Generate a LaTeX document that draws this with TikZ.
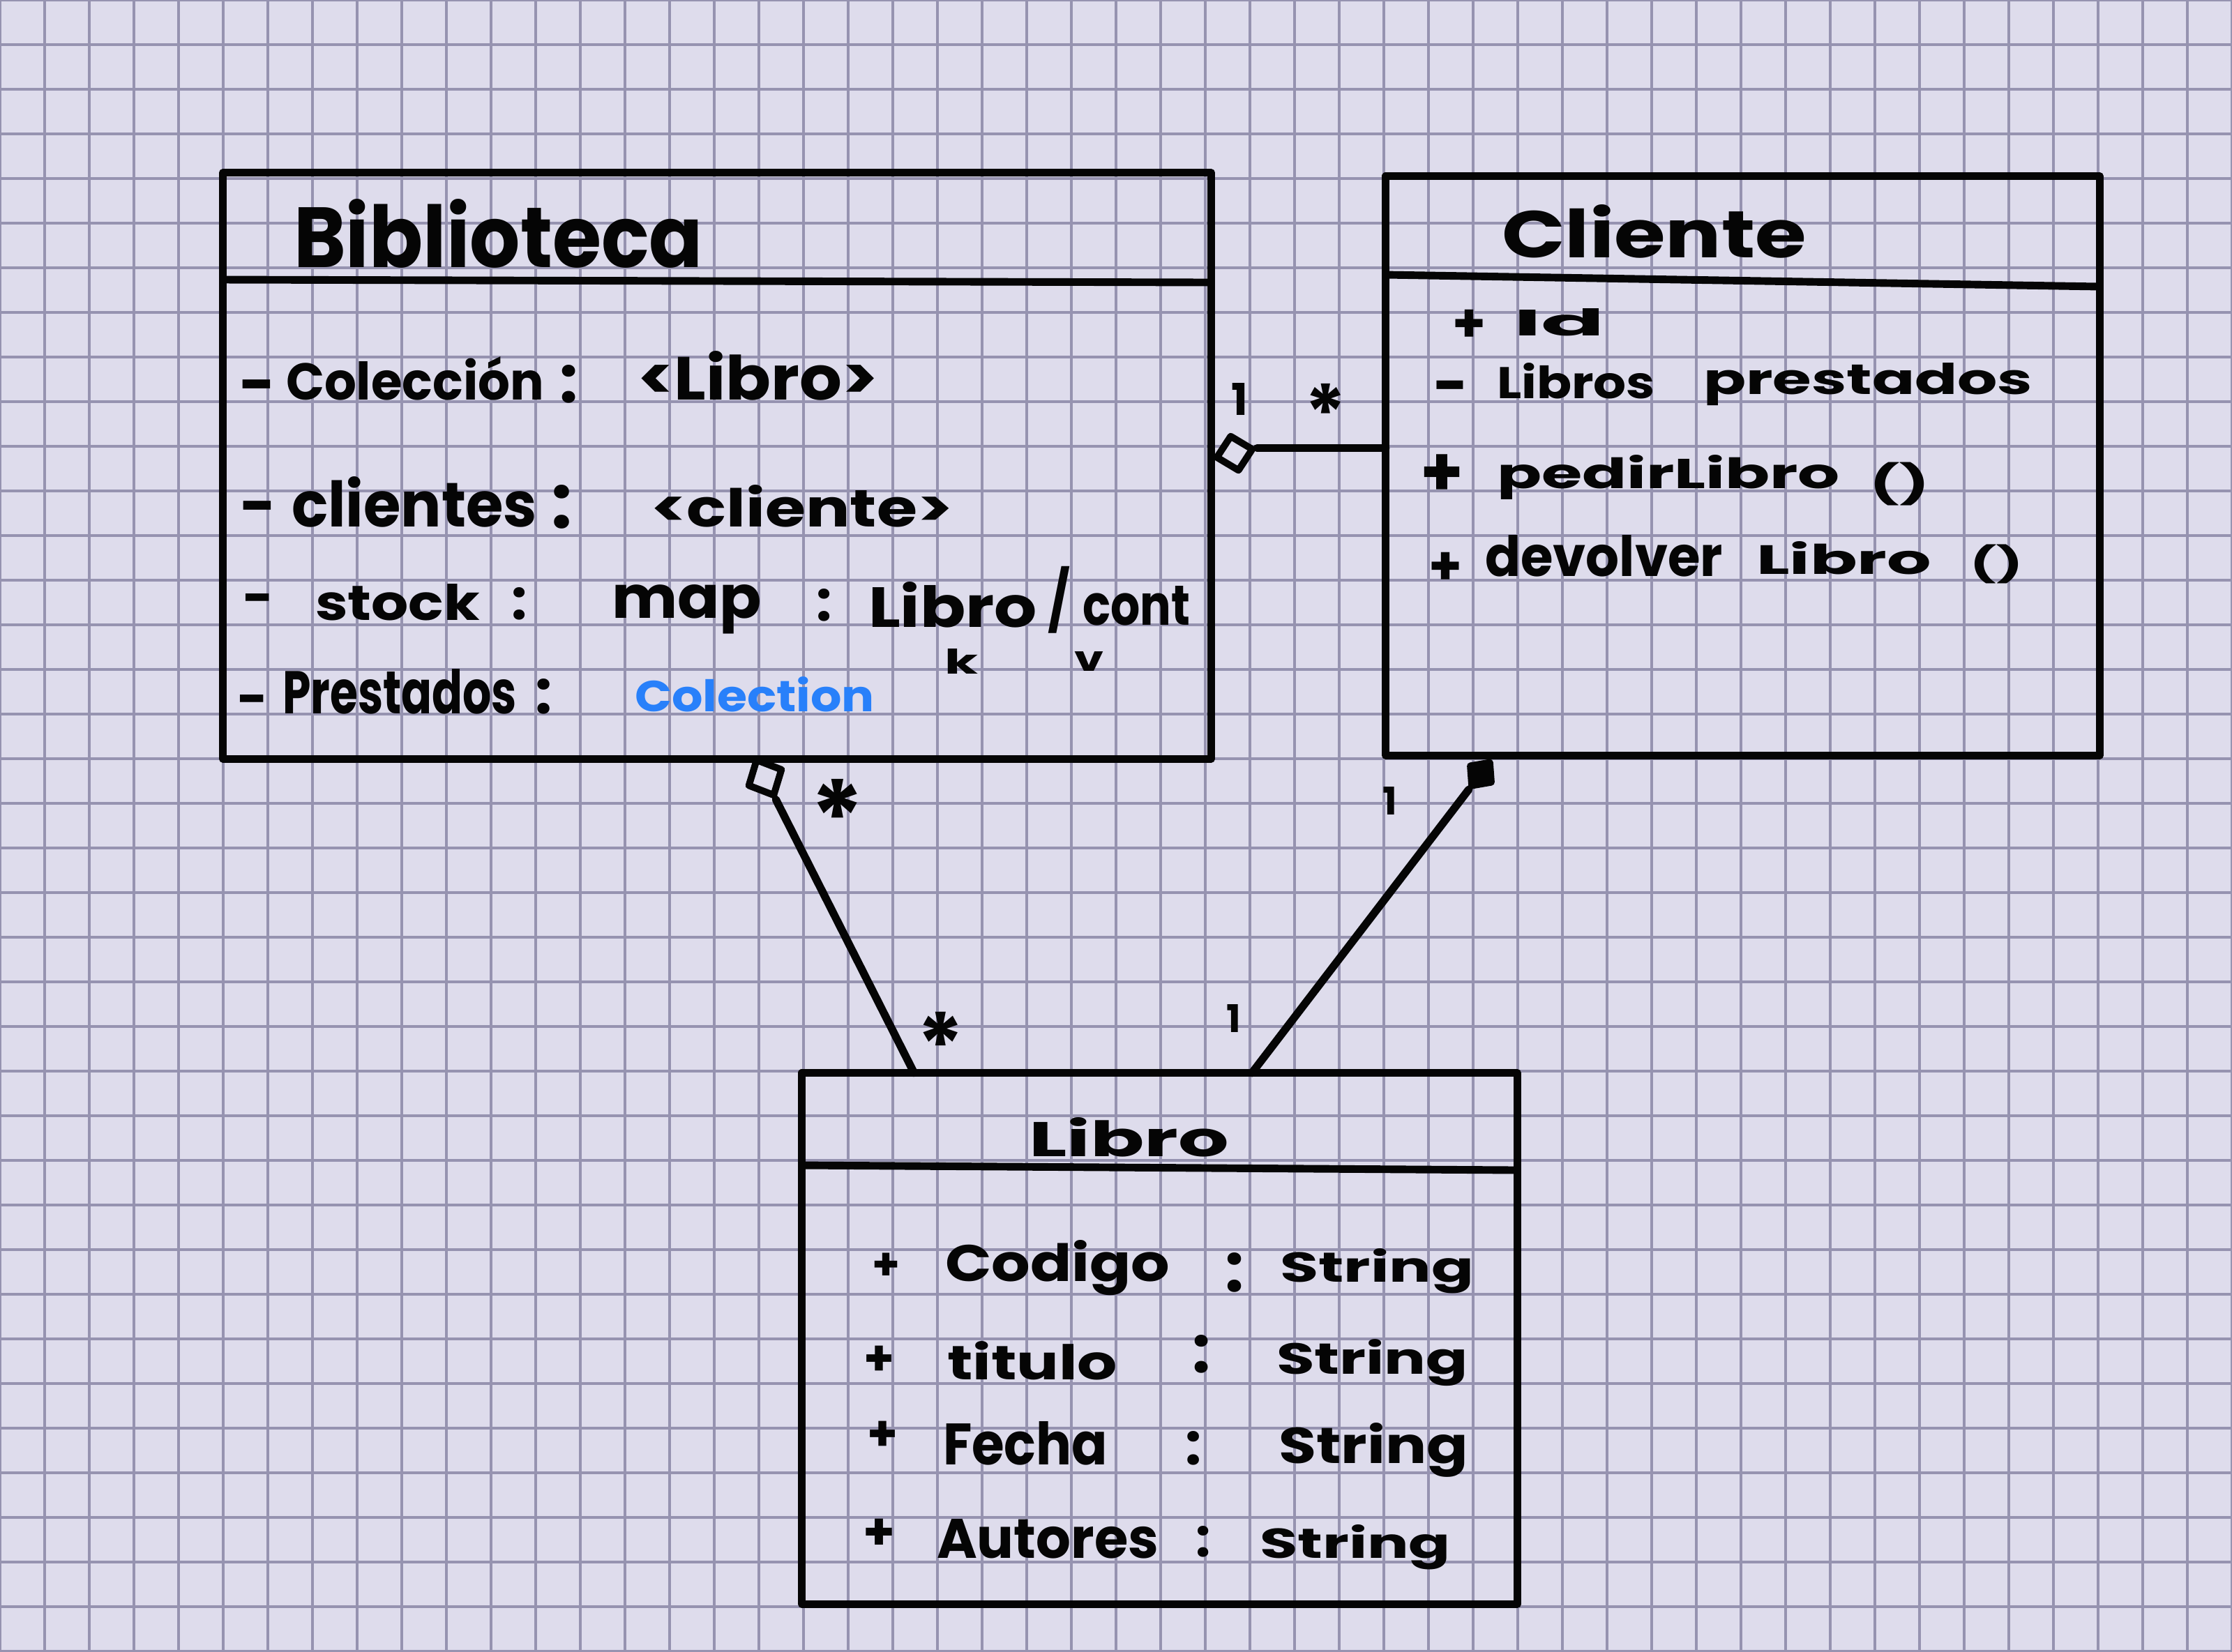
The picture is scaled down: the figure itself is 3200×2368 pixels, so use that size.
\documentclass[tikz,border=0pt]{standalone}
\usepackage{graphicx}
\usepackage{fontspec}
\setmainfont{Poppins}
\usetikzlibrary{shapes.geometric,calc}
\definecolor{paper}{RGB}{222,220,236}
\definecolor{gridc}{RGB}{150,147,176}
\definecolor{ink}{RGB}{5,5,5}
\definecolor{blueink}{RGB}{40,128,250}
\newlength\pxu
\setlength\pxu{0.01cm}
\newcommand\hw[3]{\resizebox{#1\pxu}{#2\pxu}{#3}}
\newcommand\hwt[3]{\resizebox*{#1\pxu}{#2\pxu}{#3}}
\newcommand\hwx[2]{\resizebox{#1\pxu}{!}{#2}}
\newcommand\hwy[2]{\resizebox{!}{#1\pxu}{#2}}
\begin{document}
\begin{tikzpicture}[x=0.01cm, y=-0.01cm,
  tw/.style={inner sep=0pt, outer sep=0pt, anchor=base west, text=ink, font=\bfseries},
  tc/.style={inner sep=0pt, outer sep=0pt, anchor=center, text=ink, font=\bfseries},
  tn/.style={inner sep=0pt, outer sep=0pt, anchor=north, text=ink, font=\bfseries},
  tb/.style={inner sep=0pt, outer sep=0pt, anchor=base, text=ink, font=\bfseries},
  umlbox/.style={draw=ink, line width=3.1pt, line join=round, inner sep=0pt, outer sep=0pt},
  sepl/.style={draw=ink, line width=3.1pt, line cap=round},
  conn/.style={draw=ink, line width=3.2pt, line cap=round},
  hollowd/.style={diamond, draw=ink, fill=paper, line width=2.8pt, line join=round, inner sep=0pt},
  filledd/.style={diamond, draw=ink, fill=ink, line width=2.8pt, line join=round, inner sep=0pt},
  gridl/.style={draw=gridc, line width=0.95pt}
]
\useasboundingbox (0,0) rectangle (3200,2368);
\fill[paper] (0,0) rectangle (3200,2368);
\foreach \g in {0,64,...,3200} \draw[gridl] (\g,0) -- (\g,2368);
\foreach \g in {0,64,...,2368} \draw[gridl] (0,\g) -- (3200,\g);

% ---------- class boxes ----------
\node[umlbox, minimum width=14.16cm, minimum height=8.40cm] (bib) at (1028,668) {};
\node[umlbox, minimum width=10.23cm, minimum height=8.30cm] (cli) at (2498.5,668) {};
\node[umlbox, minimum width=10.25cm, minimum height=7.61cm] (lib) at (1662.5,1919.5) {};
\draw[sepl] (bib.west |- 0,401) -- (bib.east |- 0,405);
\draw[sepl] (cli.west |- 0,394) -- (cli.east |- 0,411);
\draw[sepl] (lib.west |- 0,1671) -- (lib.east |- 0,1678);

% ---------- Biblioteca ----------
\node[tw] (bibT) at (421,383) {\hw{587}{98}{Biblioteca}};
\node[tn] (b1m) at (369,545) {\hwx{52}{-}};
\node[tw] (b1a) at (410,573) {\hw{370}{62}{Colección}};
\node[tb] (b1c) at (816,577) {\hwy{54}{:}};
\node[tw] (b1t) at (914,573) {\hw{345}{70}{<Libro>}};
\node[tn] (b2m) at (370,719) {\hwx{52}{-}};
\node[tw] (b2a) at (418,755) {\hw{352}{72}{clientes}};
\node[tb] (b2c) at (806,757) {\hwy{62}{:}};
\node[tw] (b2t) at (933,755) {\hw{433}{60}{<cliente>}};
\node[tn] (b3m) at (370,851) {\hwx{44}{-}};
\node[tw] (b3a) at (452,889) {\hw{236}{52}{stock}};
\node[tb] (b3c) at (745,888) {\hwy{46}{:}};
\node[tw] (b3t) at (877,886) {\hw{215}{48}{map}};
\node[tb] (b3d) at (1182,890) {\hwy{46}{:}};
\node[tw] (b3k) at (1245,899) {\hw{242}{65}{Libro}};
\node[tc] (b3s) at (1518,860) {\hwt{32}{96}{/}};
\node[tw] (b3v) at (1552,896) {\hw{154}{56}{cont}};
\node[tw] (b3kk) at (1354,966) {\hw{48}{36}{k}};
\node[tw] (b3vv) at (1540,962) {\hw{42}{28}{v}};
\node[tn] (b4m) at (362,996) {\hwx{44}{-}};
\node[tw] (b4a) at (405,1023) {\hw{336}{64}{Prestados}};
\node[tb] (b4c) at (780,1023) {\hwy{50}{:}};
\node[tw, text=blueink] (b4t) at (910,1020) {\hw{344}{50}{Colection}};

% ---------- Cliente ----------
\node[tw] (cliT) at (2153,369) {\hw{437}{76}{Cliente}};
\node[tn] (c1p) at (2106,444) {\hwx{48}{+}};
\node[tw] (c1a) at (2170,481) {\hw{131}{39}{Id}};
\node[tn] (c2m) at (2080,546) {\hwx{50}{-}};
\node[tw] (c2a) at (2146,571) {\hw{227}{51}{Libros}};
\node[tw] (c2b) at (2442,565) {\hw{472}{45}{prestados}};
\node[tn] (c3p) at (2067,652) {\hwx{62}{+}};
\node[tw] (c3a) at (2146,700) {\hw{492}{48}{pedirLibro}};
\node[tc] (c3b) at (2723,694) {\hwt{86}{62}{()}};
\node[tn] (c4p) at (2072,792) {\hwx{48}{+}};
\node[tw] (c4a) at (2129,826) {\hw{341}{59}{devolver}};
\node[tw] (c4b) at (2518,823) {\hw{251}{47}{Libro}};
\node[tc] (c4c) at (2862,809) {\hwt{76}{56}{()}};

% ---------- Libro ----------
\node[tw] (libT) at (1475,1658) {\hw{287}{56}{Libro}};
\node[tn] (l1p) at (1270,1797) {\hwx{40}{+}};
\node[tw] (l1a) at (1355,1837) {\hw{322}{59}{Codigo}};
\node[tb] (l1c) at (1770,1852) {\hwy{56}{:}};
\node[tw] (l1t) at (1835,1838) {\hw{278}{48}{String}};
\node[tn] (l2p) at (1260,1930) {\hwx{44}{+}};
\node[tw] (l2a) at (1358,1978) {\hw{244}{55}{titulo}};
\node[tb] (l2c) at (1723,1968) {\hwy{54}{:}};
\node[tw] (l2t) at (1830,1970) {\hw{275}{50}{String}};
\node[tn] (l3p) at (1265,2038) {\hwx{44}{+}};
\node[tw] (l3a) at (1352,2100) {\hw{236}{62}{Fecha}};
\node[tb] (l3c) at (1711,2100) {\hwy{48}{:}};
\node[tw] (l3t) at (1833,2098) {\hw{272}{58}{String}};
\node[tn] (l4p) at (1260,2178) {\hwx{46}{+}};
\node[tw] (l4a) at (1343,2234) {\hw{318}{56}{Autores}};
\node[tb] (l4c) at (1725,2232) {\hwy{44}{:}};
\node[tw] (l4t) at (1806,2234) {\hw{274}{48}{String}};

% ---------- associations ----------
\node[hollowd, minimum width=0.56cm, minimum height=0.54cm, rotate=13] (d1) at (1770,650) {};
\draw[conn] (d1.east) -- (d1.east -| cli.west);
\node[tb] (m1) at (1777,595) {\hwy{46}{1}};
\node[tn] (m2) at (1900,550) {\hwx{60}{*}};

\coordinate (libA) at ($(lib.north west)+(161,0)$);
\node[hollowd, minimum width=0.60cm, minimum height=0.56cm, rotate=-64] (d2) at (1097,1115) {};
\draw[conn] (d2.east) -- (libA);
\node[tn] (m3) at (1200,1117) {\hwx{78}{*}};
\node[tn] (m4) at (1348,1451) {\hwx{68}{*}};

\coordinate (libB) at ($(lib.north west)+(645,0)$);
\node[filledd, minimum width=0.46cm, minimum height=0.42cm, rotate=-128] (d3) at (2123,1110) {};
\draw[conn] (d3.east) -- (libB);
\node[tb] (m5) at (1993,1168) {\hwy{40}{1}};
\node[tb] (m6) at (1769,1480) {\hwy{40}{1}};
\end{tikzpicture}
\end{document}
